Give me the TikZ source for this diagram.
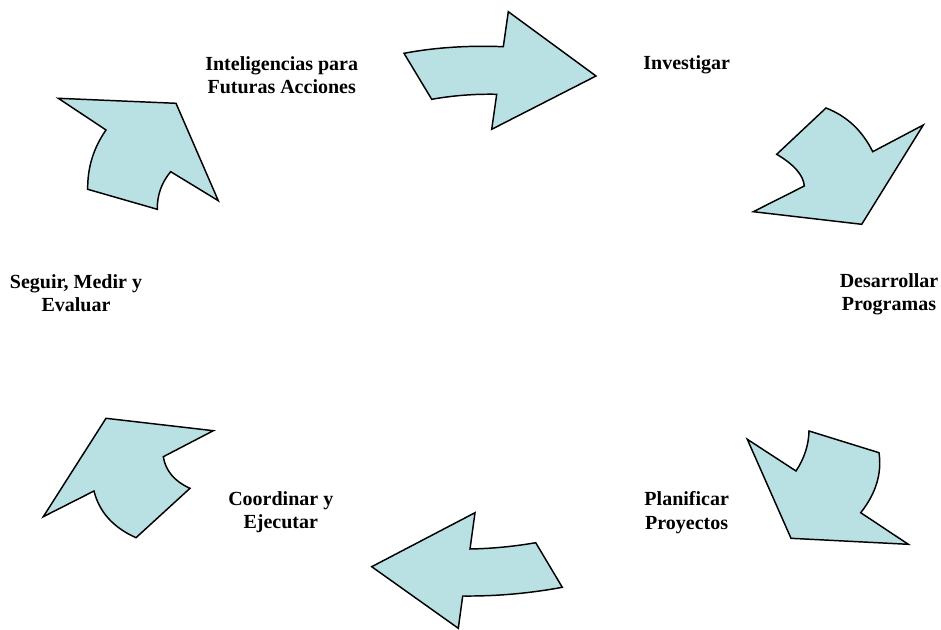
\documentclass[tikz,border=0pt]{standalone}
\usepackage{fontspec}
\setmainfont{Liberation Serif}
\usetikzlibrary{calc}
\begin{document}
\begin{tikzpicture}[x=0.75pt,y=-0.75pt,
  cyclearrow/.style={draw=black,line width=1.1pt,fill=arrowfill,line join=miter},
  % quadratic curve through one control point, written as a cubic
  qto/.style={to path={.. controls ($(\tikztostart)!2/3!#1$) and ($(\tikztotarget)!2/3!#1$) .. (\tikztotarget)}},
  steplabel/.style={font=\bfseries\fontsize{15}{17.5}\selectfont,align=center,inner sep=0pt}]
\definecolor{arrowfill}{RGB}{185,224,227}
\useasboundingbox (0,0) rectangle (941,630);

% top arrow, pointing right
\draw[cyclearrow] (431.7,99.3) -- (404,53.3)
  to[qto={(450.3,44.6)}] (503.3,46.7)
  -- (508.3,11.7) -- (596,76) -- (491.7,129.3) -- (496.7,94.3)
  to[qto={(463.8,93.6)}] (431.7,99.3) -- cycle;

% upper right arrow
\draw[cyclearrow] (776.7,154.3) -- (826,108)
  to[qto={(857.2,120.1)}] (872.7,151.7)
  -- (923.3,125) -- (861.7,224.3) -- (753.3,211.7) -- (804.3,186)
  to[qto={(802.9,169.8)}] (776.7,154.3) -- cycle;

% lower right arrow
\draw[cyclearrow] (809,431) -- (879,452.7)
  to[qto={(883.5,484)}] (860.7,512.7)
  -- (908.3,544.3) -- (791,538.3) -- (747.3,439.3) -- (796,471)
  to[qto={(808.5,452)}] (809,431) -- cycle;

% bottom arrow, pointing left
\draw[cyclearrow] (562.3,587.3) -- (535.7,542.7)
  to[qto={(502.8,548.4)}] (470,549)
  -- (475,512.7) -- (371.7,566.7) -- (458.3,628.3) -- (462.7,596)
  to[qto={(512.5,596.5)}] (562.3,587.3) -- cycle;

% lower left arrow
\draw[cyclearrow] (190,488.3) -- (136,537.7)
  to[qto={(101.7,522.3)}] (94,491)
  -- (43.3,516.7) -- (106,418.3) -- (213.3,430.7) -- (163.3,456.7)
  to[qto={(166.7,477.9)}] (190,488.3) -- cycle;

% upper left arrow
\draw[cyclearrow] (87.7,189.3) -- (157.3,209.3)
  to[qto={(157,188)}] (170.7,171.7)
  -- (218.3,200.7) -- (176,103.3) -- (58.3,98.3) -- (106,130)
  to[qto={(87.3,156.7)}] (87.7,189.3) -- cycle;

% step labels
\node[steplabel] (intel) at (281.7,75.5) {Inteligencias para\\Futuras Acciones};
\node[steplabel] (inv) at (686.7,64.5) {Investigar};
\node[steplabel] (desa) at (889,294) {Desarrollar\\Programas};
\node[steplabel] (plan) at (686.7,512.5) {Planificar\\Proyectos};
\node[steplabel] (coord) at (280.8,512.5) {Coordinar y\\Ejecutar};
\node[steplabel] (seg) at (76,293.5) {Seguir, Medir y\\Evaluar};
\end{tikzpicture}
\end{document}
